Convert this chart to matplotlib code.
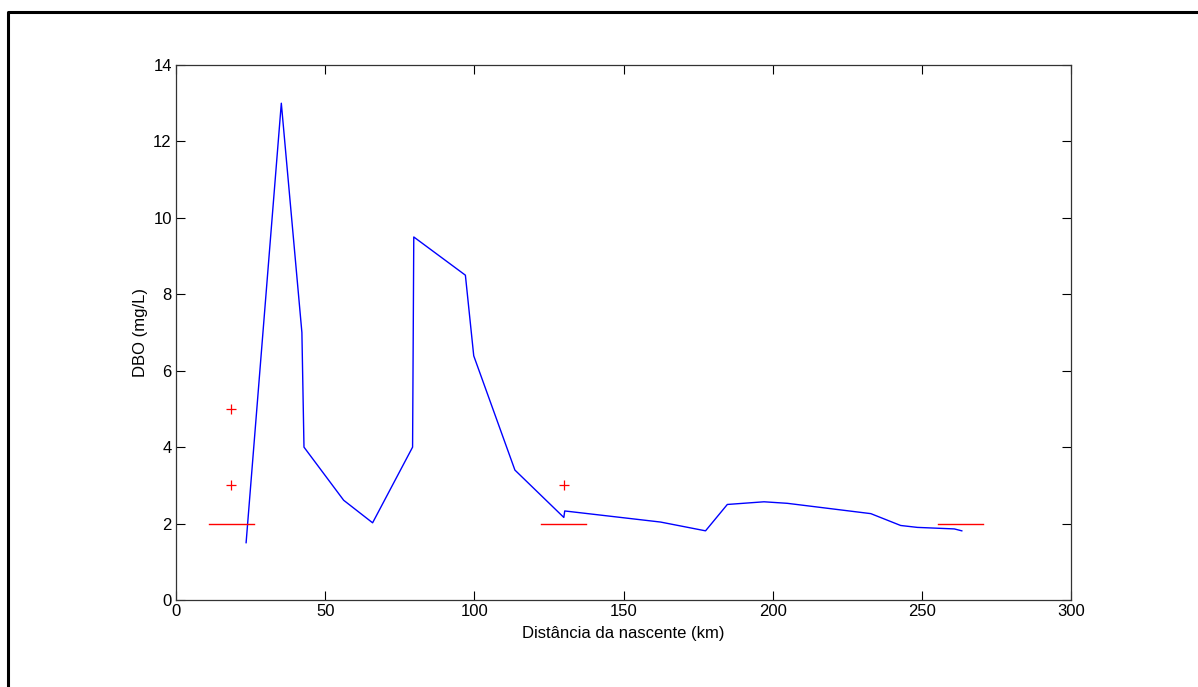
import matplotlib
matplotlib.use("Agg")
import matplotlib.pyplot as plt
from matplotlib.lines import Line2D

plt.rcParams['font.family'] = ['Liberation Sans', 'DejaVu Sans']

# Simulated DBO profile (blue line)
dist_km = [23.5, 35.3, 42.2, 42.9, 56.2, 65.9, 79.3, 79.5, 79.7, 97.0, 99.8,
           113.6, 130.0, 130.3, 162.4, 177.5, 184.8, 197.1, 204.9, 232.9,
           242.9, 248.5, 260.9, 263.4]
dbo_mgl = [1.5, 13.0, 7.0, 4.0, 2.61, 2.02, 4.0, 6.7, 9.5, 8.5, 6.39,
           3.4, 2.16, 2.33, 2.04, 1.81, 2.50, 2.57, 2.53, 2.26,
           1.95, 1.90, 1.86, 1.81]

# Observed values (red crosses)
obs_km = [18.5, 18.5, 130.0]
obs_dbo = [5.0, 3.0, 3.0]

# Limit segments at DBO = 2 mg/L
lim_center_km = [18.5, 130.0, 263.0]
lim_half_width = 7.5
lim_value = 2.0

xticks = [0, 50, 100, 150, 200, 250, 300]
yticks = [0, 2, 4, 6, 8, 10, 12, 14]

fig = plt.figure(figsize=(11.98, 6.87), dpi=100)
ax = fig.add_axes([176/1198, 87/687, (1071-176)/1198, (600-65)/687])

ax.plot(dist_km, dbo_mgl, color='#0000ff', lw=1.0)
ax.plot(obs_km, obs_dbo, ls='none', marker='+', color='#ff0000',
        markersize=7, markeredgewidth=0.9)
for c in lim_center_km:
    ax.plot([c - lim_half_width, c + lim_half_width], [lim_value, lim_value],
            color='#ff0000', lw=1.0)

ax.set_xlim(0, 300)
ax.set_ylim(0, 14)
ax.set_xticks(xticks)
ax.set_yticks(yticks)
ax.tick_params(direction='in', length=6.5, width=0.8, top=True, right=True,
               labelsize=12, colors='black', pad=3)
for s in ax.spines.values():
    s.set_linewidth(0.9)
    s.set_color('#333333')
ax.set_xlabel('Distância da nascente (km)', fontsize=12, labelpad=5)
ax.set_ylabel('DBO (mg/L)', fontsize=12, labelpad=4)

# Outer frame (top and left edges)
fig.add_artist(Line2D([8/1198, 8/1198, 1.0], [0.0, 1 - 12/687, 1 - 12/687],
                      transform=fig.transFigure, color='black', lw=2.2))

fig.savefig('out.png', dpi=100)
